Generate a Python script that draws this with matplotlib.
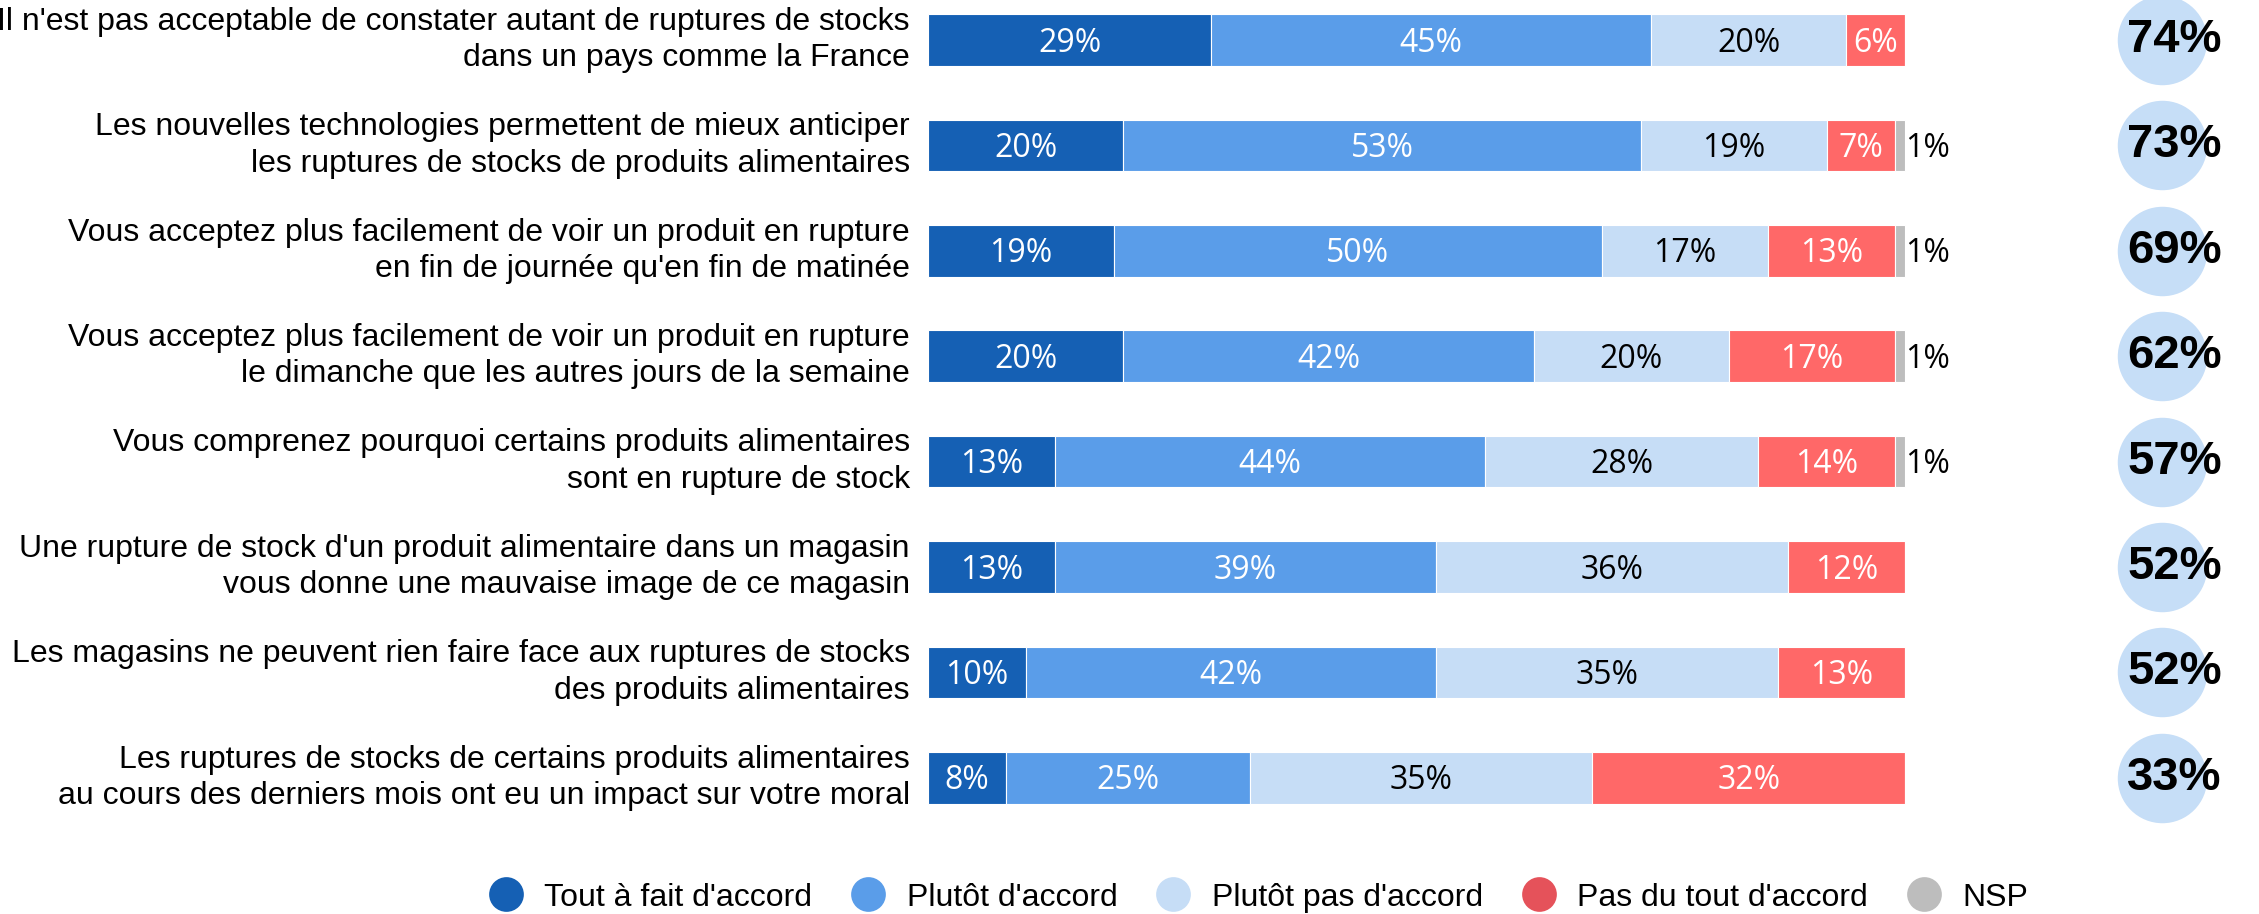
import matplotlib
matplotlib.use('Agg')
import matplotlib.pyplot as plt
from matplotlib.lines import Line2D

labels = [
    "Il n'est pas acceptable de constater autant de ruptures de stocks\ndans un pays comme la France",
    "Les nouvelles technologies permettent de mieux anticiper\nles ruptures de stocks de produits alimentaires",
    "Vous acceptez plus facilement de voir un produit en rupture\nen fin de journée qu'en fin de matinée",
    "Vous acceptez plus facilement de voir un produit en rupture\nle dimanche que les autres jours de la semaine",
    "Vous comprenez pourquoi certains produits alimentaires\nsont en rupture de stock",
    "Une rupture de stock d'un produit alimentaire dans un magasin\nvous donne une mauvaise image de ce magasin",
    "Les magasins ne peuvent rien faire face aux ruptures de stocks\ndes produits alimentaires",
    "Les ruptures de stocks de certains produits alimentaires\nau cours des derniers mois ont eu un impact sur votre moral",
]
tout_a_fait = [29, 20, 19, 20, 13, 13, 10, 8]
plutot = [45, 53, 50, 42, 44, 39, 42, 25]
plutot_pas = [20, 19, 17, 20, 28, 36, 35, 35]
pas_du_tout = [6, 7, 13, 17, 14, 12, 13, 32]
nsp = [0, 1, 1, 1, 1, 0, 0, 0]
total_accord = [74, 73, 69, 62, 57, 52, 52, 33]
series_names = ["Tout à fait d'accord", "Plutôt d'accord", "Plutôt pas d'accord",
                "Pas du tout d'accord", "NSP"]

bar_colors = ['#1560b4', '#5a9de9', '#c6ddf6', '#ff6868', '#bdbdbd']
legend_colors = ['#1560b4', '#5a9de9', '#c6ddf6', '#e5525a', '#bdbdbd']
text_colors = ['white', 'white', 'black', 'white', 'black']

W, H = 2259, 914
fig = plt.figure(figsize=(W / 100, H / 100), dpi=100)
left_px = 928
px_per_unit = 9.77
ax = fig.add_axes([left_px / W, 0, 1 - left_px / W, 1])
ax.set_xlim(0, (W - left_px) / px_per_unit)
row_px, top_px = 105.4, 40
ax.set_ylim((H - top_px) / row_px, -top_px / row_px)
ax.axis('off')

series = [tout_a_fait, plutot, plutot_pas, pas_du_tout, nsp]
ys = list(range(len(labels)))
lefts = [0] * len(labels)
for k, vals in enumerate(series):
    ax.barh(ys, vals, left=lefts, height=0.49, color=bar_colors[k],
            edgecolor='white', linewidth=0.8)
    for i, v in enumerate(vals):
        if v == 0:
            continue
        if k < 4:
            ax.text(lefts[i] + v / 2, i + 0.03, f"{v}%", ha='center', va='center',
                    fontsize=23, color=text_colors[k], family='Open Sans')
        else:
            # NSP value goes just outside the bar
            ax.text(lefts[i] + v + 0.05, i + 0.03, f"{v}%", ha='left', va='center',
                    fontsize=23, color='black', family='Open Sans')
    lefts = [a + b for a, b in zip(lefts, vals)]

for i, lab in enumerate(labels):
    ax.text(-1.85, i, lab, ha='right', va='center', fontsize=23,
            family='Liberation Sans', linespacing=1.28, clip_on=False)

# total "d'accord" bubbles on the right
ax.scatter([126.3] * len(ys), ys, s=4150, color='#c6def7', linewidths=0, zorder=2)
for i, t in enumerate(total_accord):
    ax.text(127.6, i, f"{t}%", ha='center', va='center', fontsize=34,
            fontweight='bold', family='Liberation Sans', zorder=3)

handles = [Line2D([], [], marker='o', linestyle='none', markersize=25,
                  markerfacecolor=c, markeredgewidth=0) for c in legend_colors]
fig.legend(handles, series_names, loc='center', bbox_to_anchor=(0.557, 0.018),
           ncol=5, frameon=False, prop={'family': 'Liberation Sans', 'size': 23},
           handlelength=1.1, handletextpad=0.65, columnspacing=1.2,
           borderpad=0, borderaxespad=0)

fig.savefig('out.png', dpi=100)
